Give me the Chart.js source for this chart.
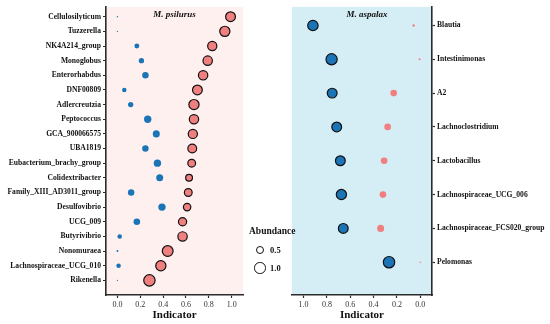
<!DOCTYPE html>
<html>
<head>
<meta charset="utf-8">
<script src="https://cdn.jsdelivr.net/npm/chart.js@4.4.1/dist/chart.umd.min.js"></script>
<style>
  body { margin: 0; background: #fff; }
  #wrap { position: relative; width: 550px; height: 324px; overflow: hidden; }
  #leftBox { position: absolute; left: 0; top: 0; width: 250px; height: 324px; }
  #rightBox { position: absolute; left: 285px; top: 0; width: 265px; height: 324px; }
  #legend { position: absolute; left: 249px; top: 226px; font-family: "Liberation Serif", serif; color: #111; z-index: 2; }
  #legend .ttl { font-weight: bold; font-size: 9.5px; height: 11px; line-height: 11px; margin-bottom: 5px; }
  #legend .row { position: relative; height: 18px; }
  #legend .dot { position: absolute; border: 1.2px solid #111; border-radius: 50%; background: #fff; box-sizing: border-box; }
  #legend .lab { position: absolute; left: 21px; font-size: 8.5px; font-weight: bold; }
</style>
</head>
<body>
<div id="wrap">
  <div id="leftBox"><canvas id="leftCanvas"></canvas></div>
  <div id="rightBox"><canvas id="rightCanvas"></canvas></div>
  <div id="legend"></div>
</div>
<script>
// กลุ่ม M. psilurus (แผงซ้าย)
const leftGenera = ['Cellulosilyticum', 'Tuzzerella', 'NK4A214_group', 'Monoglobus', 'Enterorhabdus',
  'DNF00809', 'Adlercreutzia', 'Peptococcus', 'GCA_900066575', 'UBA1819', 'Eubacterium_brachy_group',
  'Colidextribacter', 'Family_XIII_AD3011_group', 'Desulfovibrio', 'UCG_009', 'Butyrivibrio',
  'Nonomuraea', 'Lachnospiraceae_UCG_010', 'Rikenella'];
const leftPsiIndicator = [0.99, 0.94, 0.83, 0.79, 0.75, 0.70, 0.67, 0.67, 0.66, 0.655, 0.65,
  0.627, 0.62, 0.61, 0.57, 0.57, 0.44, 0.38, 0.28];
const leftPsiAbundance = [0.93, 1.0, 0.83, 0.86, 0.86, 0.93, 1.0, 0.86, 0.83, 0.77, 0.62,
  0.49, 0.62, 0.57, 0.68, 0.86, 1.11, 1.0, 1.22];
const leftAspIndicator = [0.0, 0.0, 0.17, 0.21, 0.245, 0.06, 0.116, 0.265, 0.34, 0.245, 0.35,
  0.37, 0.12, 0.39, 0.17, 0.02, 0.0, 0.01, 0.0];
const leftAspAbundance = [0.015, 0.015, 0.19, 0.22, 0.32, 0.15, 0.22, 0.42, 0.38, 0.32, 0.42,
  0.38, 0.32, 0.42, 0.34, 0.16, 0.03, 0.16, 0.015];

// กลุ่ม M. aspalax (แผงขวา)
const rightGenera = ['Blautia', 'Intestinimonas', 'A2', 'Lachnoclostridium', 'Lactobacillus',
  'Lachnospiraceae_UCG_006', 'Lachnospiraceae_FCS020_group', 'Pelomonas'];
const rightAspIndicator = [0.92, 0.76, 0.755, 0.716, 0.685, 0.676, 0.66, 0.268];
const rightAspAbundance = [1.04, 1.18, 0.93, 0.93, 0.93, 1.0, 0.93, 1.22];
const rightPsiIndicator = [0.057, 0.006, 0.228, 0.28, 0.31, 0.32, 0.34, 0.0];
const rightPsiAbundance = [0.044, 0.03, 0.34, 0.34, 0.34, 0.34, 0.38, 0.02];

const indicatorTicks = [0.0, 0.2, 0.4, 0.6, 0.8, 1.0];
const legendSizes = [0.5, 1.0];

const PINK = '#F08080';
const BLUE = '#1B74B6';
const AXIS = '#2b2b2b';
const SERIF = '"Liberation Serif", "Times New Roman", serif';

function sizeOf(a) {
  return 5.7 * Math.sqrt(a);
}

function toPoints(xs) {
  return xs.map((v, i) => ({ x: v, y: i }));
}

// พื้นหลังของพื้นที่กราฟ + ชื่อกลุ่มด้านบน
const panelDeco = {
  id: 'panelDeco',
  beforeDraw(chart, args, opts) {
    const a = chart.chartArea;
    const ctx = chart.ctx;
    ctx.save();
    ctx.fillStyle = opts.bg;
    ctx.fillRect(a.left, a.top, a.right - a.left, a.bottom - a.top);
    ctx.restore();
  },
  afterDatasetsDraw(chart, args, opts) {
    const a = chart.chartArea;
    const ctx = chart.ctx;
    ctx.save();
    ctx.fillStyle = '#111';
    ctx.font = 'italic bold 9px ' + SERIF;
    ctx.textAlign = 'center';
    ctx.textBaseline = 'middle';
    ctx.fillText(opts.title, opts.titleX != null ? opts.titleX : (a.left + a.right) / 2, a.top + 8);
    ctx.restore();
  }
};

function makeChart(canvasId, cfg) {
  return new Chart(document.getElementById(canvasId), {
    type: 'scatter',
    data: {
      datasets: cfg.datasets
    },
    options: {
      responsive: true,
      maintainAspectRatio: false,
      animation: false,
      layout: { padding: cfg.padding },
      plugins: {
        legend: { display: false },
        tooltip: { enabled: false },
        panelDeco: { bg: cfg.bg, title: cfg.title, titleX: cfg.titleX }
      },
      scales: {
        x: {
          type: 'linear',
          min: -0.1,
          max: 1.1,
          reverse: cfg.reverse,
          afterBuildTicks: s => { s.ticks = indicatorTicks.map(v => ({ value: v })); },
          afterFit: s => { s.height = 29; },
          grid: { display: true, drawOnChartArea: false, drawTicks: true, tickLength: 3, color: AXIS, tickWidth: 1.2 },
          border: { display: true, color: AXIS, width: 1.6 },
          ticks: {
            color: '#333',
            font: { family: SERIF, size: 8 },
            padding: 2,
            maxRotation: 0,
            callback: v => v.toFixed(1)
          },
          title: {
            display: true,
            text: 'Indicator',
            color: '#111',
            font: { family: SERIF, size: 11, weight: 'bold' },
            padding: { top: 0, bottom: 2 }
          }
        },
        y: {
          type: 'linear',
          position: cfg.yPos,
          reverse: true,
          min: cfg.yMin,
          max: cfg.yMax,
          afterBuildTicks: s => { s.ticks = cfg.genera.map((g, i) => ({ value: i })); },
          afterFit: s => { s.width = cfg.yWidth; },
          grid: { display: true, drawOnChartArea: false, drawTicks: true, tickLength: 3, color: AXIS, tickWidth: 1.2 },
          border: { display: true, color: AXIS, width: 1.6 },
          ticks: {
            color: '#111',
            font: { family: SERIF, size: 7.6, weight: 'bold' },
            padding: 2,
            autoSkip: false,
            callback: v => cfg.genera[v] || ''
          }
        }
      }
    },
    plugins: [panelDeco]
  });
}

// แผงซ้าย: M. psilurus
makeChart('leftCanvas', {
  genera: leftGenera,
  title: 'M. psilurus',
  bg: '#FFF0F0',
  reverse: false,
  yPos: 'left',
  yWidth: 106,
  yMin: -0.67,
  yMax: 19.0,
  padding: { top: 2, right: 3, left: 0, bottom: 0 },
  datasets: [
    {
      data: toPoints(leftAspIndicator),
      backgroundColor: BLUE,
      borderWidth: 0,
      pointRadius: ctx => sizeOf(leftAspAbundance[ctx.dataIndex])
    },
    {
      data: toPoints(leftPsiIndicator),
      backgroundColor: PINK,
      borderColor: '#111',
      borderWidth: 1.2,
      pointRadius: ctx => sizeOf(leftPsiAbundance[ctx.dataIndex]) - 0.6
    }
  ]
});

// แผงขวา: M. aspalax
makeChart('rightCanvas', {
  genera: rightGenera,
  title: 'M. aspalax',
  titleX: 82,
  bg: '#D5EDF5',
  reverse: true,
  yPos: 'right',
  yWidth: 118,
  yMin: -0.55,
  yMax: 7.97,
  padding: { top: 2, right: 0, left: 6, bottom: 0 },
  datasets: [
    {
      data: toPoints(rightPsiIndicator),
      backgroundColor: PINK,
      borderWidth: 0,
      pointRadius: ctx => sizeOf(rightPsiAbundance[ctx.dataIndex])
    },
    {
      data: toPoints(rightAspIndicator),
      backgroundColor: BLUE,
      borderColor: '#111',
      borderWidth: 1.2,
      pointRadius: ctx => sizeOf(rightAspAbundance[ctx.dataIndex]) - 0.6
    }
  ]
});

// คำอธิบายขนาดจุด (Abundance)
const legendEl = document.getElementById('legend');
let html = '<div class="ttl">Abundance</div>';
legendSizes.forEach(function(a) {
  const d = sizeOf(a) * 2;
  html += '<div class="row"><div class="dot" style="width:' + d + 'px;height:' + d + 'px;left:' +
    (11 - d / 2) + 'px;top:' + (8 - d / 2) + 'px"></div><div class="lab" style="top:3px">' +
    a.toFixed(1) + '</div></div>';
});
legendEl.innerHTML = html;
</script>
</body>
</html>
